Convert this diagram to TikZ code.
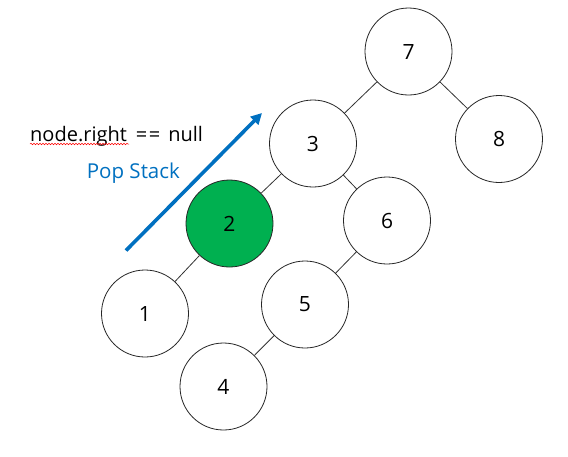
\documentclass[tikz,border=0pt]{standalone}
\usepackage{fontspec}
\setmainfont{Open Sans}
\usepackage{xcolor}
\definecolor{popBlue}{HTML}{0070C0}
\definecolor{visitGreen}{HTML}{00B050}
\usetikzlibrary{arrows.meta}
\usetikzlibrary{decorations.pathmorphing}
\tikzset{
    treenode/.style={circle,draw=black!85,line width=0.8pt,fill=white,minimum size=87pt,inner sep=0pt,font=\fontsize{21}{24}\selectfont},
    curnode/.style={treenode,fill=visitGreen},
    treeEdge/.style={draw=black!80,line width=0.8pt},
    popArrow/.style={draw=popBlue,line width=3.6pt,-{Triangle[length=11pt,width=11pt]}},
    labeltext/.style={inner sep=0pt,anchor=base west,font=\fontsize{20}{24}\selectfont}
}

\begin{document}
\begin{tikzpicture}[x=1pt,y=-1pt]
  \useasboundingbox (0,0) rectangle (568,456);

  % tree nodes
  \node[treenode] (n7) at (408.5,51.5) {7};
  \node[treenode] (n3) at (313,143.5) {3};
  \node[treenode] (n8) at (499,139) {8};
  \node[curnode]  (n2) at (229.5,223.5) {2};
  \node[treenode] (n6) at (387,220.5) {6};
  \node[treenode] (n1) at (145,313.5) {1};
  \node[treenode] (n5) at (305,304.5) {5};
  \node[treenode] (n4) at (223.5,386.5) {4};

  % edges
  \draw[treeEdge] (n7) -- (n3);
  \draw[treeEdge] (n7) -- (n8);
  \draw[treeEdge] (n3) -- (n2);
  \draw[treeEdge] (n3) -- (n6);
  \draw[treeEdge] (n2) -- (n1);
  \draw[treeEdge] (n6) -- (n5);
  \draw[treeEdge] (n5) -- (n4);

  % condition text and its spell-check underline
  \node[labeltext] (cond) at (30,141.7) {node.right\hspace{9pt}=\hspace{1.5pt}=\hspace{8pt}null};
  \coordinate (waveStart) at (30,144);
  \coordinate (waveEnd) at (129,144);
  \draw[red,line width=0.5pt,decorate,decoration={snake,amplitude=0.8pt,segment length=3pt}] (waveStart) -- (waveEnd);

  % pop stack arrow
  \node[labeltext,text=popBlue,font=\fontsize{20.5}{24}\selectfont] (pop) at (86.7,178) {Pop Stack};
  \coordinate (arrowTail) at (126,250.5);
  \coordinate (arrowHead) at (262,113);
  \draw[popArrow] (arrowTail) -- (arrowHead);

\end{tikzpicture}
\end{document}
